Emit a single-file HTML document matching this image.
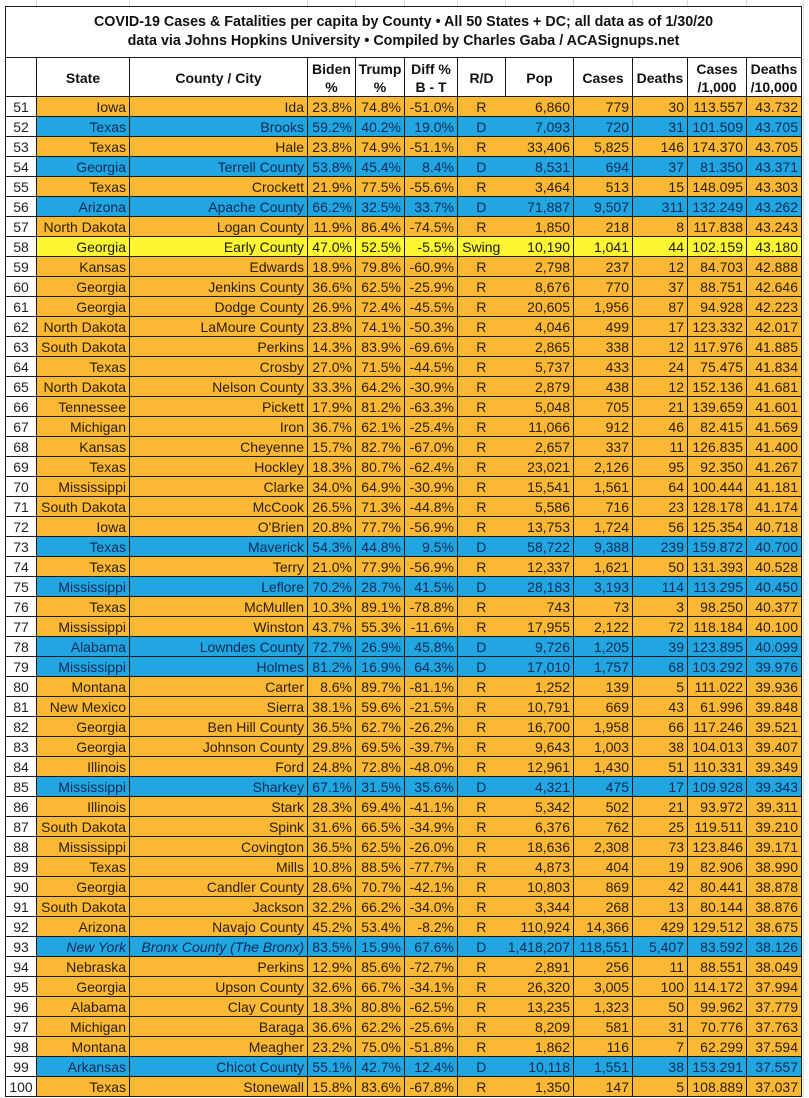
<!DOCTYPE html>
<html><head><meta charset="utf-8">
<style>
html,body{margin:0;padding:0;background:#fff;}
body{width:809px;height:1098px;overflow:hidden;position:relative;font-family:"Liberation Sans",Arial,sans-serif;}
.gl{position:absolute;background:#dcdcdc;}
table{position:absolute;left:5px;top:6px;border-collapse:collapse;table-layout:fixed;width:796px;}
td{border:1px solid #1a1a1a;padding:0 3px 0 2px;font-size:14px;line-height:18px;white-space:nowrap;overflow:hidden;text-align:right;}
tr.d td{height:19px;}
tr.t td{height:49px;text-align:center;font-weight:bold;font-size:14.3px;line-height:19px;color:#111;padding:0 0 1px 0;background:#fff;}
tr.h td{height:37px;text-align:center;font-weight:bold;font-size:14px;line-height:18px;color:#111;background:#fff;padding:1px 0 0 0;}
td.n{text-align:center;background:#fff;color:#222;padding:0;}
td.r{text-align:center;border-right:none;}
td.q{border-left:none;}
tr.o td{background:#fab834;color:#2b1d06;}
tr.b td{background:#22a6e2;color:#0b2a55;}
tr.y td{background:#fdf733;color:#1a1a00;}
tr.o td.n,tr.b td.n,tr.y td.n{background:#fff;color:#222;}
tr.i td.s,tr.i td.c{font-style:italic;}
</style></head><body>
<div class="gl" style="left:36px;top:0;width:1px;height:6px"></div>
<div class="gl" style="left:129px;top:0;width:1px;height:6px"></div>
<div class="gl" style="left:307px;top:0;width:1px;height:6px"></div>
<div class="gl" style="left:355px;top:0;width:1px;height:6px"></div>
<div class="gl" style="left:404px;top:0;width:1px;height:6px"></div>
<div class="gl" style="left:457px;top:0;width:1px;height:6px"></div>
<div class="gl" style="left:505px;top:0;width:1px;height:6px"></div>
<div class="gl" style="left:573px;top:0;width:1px;height:6px"></div>
<div class="gl" style="left:632px;top:0;width:1px;height:6px"></div>
<div class="gl" style="left:687px;top:0;width:1px;height:6px"></div>
<div class="gl" style="left:746px;top:0;width:1px;height:6px"></div>
<div class="gl" style="left:803px;top:0;width:1px;height:1098px"></div>
<table>
<colgroup>
<col style="width:31px"><col style="width:93px"><col style="width:178px"><col style="width:48px"><col style="width:49px"><col style="width:53px"><col style="width:48px"><col style="width:68px"><col style="width:59px"><col style="width:55px"><col style="width:59px"><col style="width:55px">
</colgroup>
<tr class="t"><td colspan="12">COVID-19 Cases &amp; Fatalities per capita by County • All 50 States + DC; all data as of 1/30/20<br>data via Johns Hopkins University • Compiled by Charles Gaba / ACASignups.net</td></tr>
<tr class="h"><td></td><td>State</td><td>County / City</td><td>Biden<br>%</td><td>Trump<br>%</td><td>Diff %<br>B - T</td><td>R/D</td><td>Pop</td><td>Cases</td><td>Deaths</td><td>Cases<br>/1,000</td><td>Deaths<br>/10,000</td></tr>
<tr class="d o"><td class="n">51</td><td class="s">Iowa</td><td class="c">Ida</td><td>23.8%</td><td>74.8%</td><td>-51.0%</td><td class="r">R</td><td class="q">6,860</td><td>779</td><td>30</td><td>113.557</td><td>43.732</td></tr>
<tr class="d b"><td class="n">52</td><td class="s">Texas</td><td class="c">Brooks</td><td>59.2%</td><td>40.2%</td><td>19.0%</td><td class="r">D</td><td class="q">7,093</td><td>720</td><td>31</td><td>101.509</td><td>43.705</td></tr>
<tr class="d o"><td class="n">53</td><td class="s">Texas</td><td class="c">Hale</td><td>23.8%</td><td>74.9%</td><td>-51.1%</td><td class="r">R</td><td class="q">33,406</td><td>5,825</td><td>146</td><td>174.370</td><td>43.705</td></tr>
<tr class="d b"><td class="n">54</td><td class="s">Georgia</td><td class="c">Terrell County</td><td>53.8%</td><td>45.4%</td><td>8.4%</td><td class="r">D</td><td class="q">8,531</td><td>694</td><td>37</td><td>81.350</td><td>43.371</td></tr>
<tr class="d o"><td class="n">55</td><td class="s">Texas</td><td class="c">Crockett</td><td>21.9%</td><td>77.5%</td><td>-55.6%</td><td class="r">R</td><td class="q">3,464</td><td>513</td><td>15</td><td>148.095</td><td>43.303</td></tr>
<tr class="d b"><td class="n">56</td><td class="s">Arizona</td><td class="c">Apache County</td><td>66.2%</td><td>32.5%</td><td>33.7%</td><td class="r">D</td><td class="q">71,887</td><td>9,507</td><td>311</td><td>132.249</td><td>43.262</td></tr>
<tr class="d o"><td class="n">57</td><td class="s">North Dakota</td><td class="c">Logan County</td><td>11.9%</td><td>86.4%</td><td>-74.5%</td><td class="r">R</td><td class="q">1,850</td><td>218</td><td>8</td><td>117.838</td><td>43.243</td></tr>
<tr class="d y"><td class="n">58</td><td class="s">Georgia</td><td class="c">Early County</td><td>47.0%</td><td>52.5%</td><td>-5.5%</td><td class="r">Swing</td><td class="q">10,190</td><td>1,041</td><td>44</td><td>102.159</td><td>43.180</td></tr>
<tr class="d o"><td class="n">59</td><td class="s">Kansas</td><td class="c">Edwards</td><td>18.9%</td><td>79.8%</td><td>-60.9%</td><td class="r">R</td><td class="q">2,798</td><td>237</td><td>12</td><td>84.703</td><td>42.888</td></tr>
<tr class="d o"><td class="n">60</td><td class="s">Georgia</td><td class="c">Jenkins County</td><td>36.6%</td><td>62.5%</td><td>-25.9%</td><td class="r">R</td><td class="q">8,676</td><td>770</td><td>37</td><td>88.751</td><td>42.646</td></tr>
<tr class="d o"><td class="n">61</td><td class="s">Georgia</td><td class="c">Dodge County</td><td>26.9%</td><td>72.4%</td><td>-45.5%</td><td class="r">R</td><td class="q">20,605</td><td>1,956</td><td>87</td><td>94.928</td><td>42.223</td></tr>
<tr class="d o"><td class="n">62</td><td class="s">North Dakota</td><td class="c">LaMoure County</td><td>23.8%</td><td>74.1%</td><td>-50.3%</td><td class="r">R</td><td class="q">4,046</td><td>499</td><td>17</td><td>123.332</td><td>42.017</td></tr>
<tr class="d o"><td class="n">63</td><td class="s">South Dakota</td><td class="c">Perkins</td><td>14.3%</td><td>83.9%</td><td>-69.6%</td><td class="r">R</td><td class="q">2,865</td><td>338</td><td>12</td><td>117.976</td><td>41.885</td></tr>
<tr class="d o"><td class="n">64</td><td class="s">Texas</td><td class="c">Crosby</td><td>27.0%</td><td>71.5%</td><td>-44.5%</td><td class="r">R</td><td class="q">5,737</td><td>433</td><td>24</td><td>75.475</td><td>41.834</td></tr>
<tr class="d o"><td class="n">65</td><td class="s">North Dakota</td><td class="c">Nelson County</td><td>33.3%</td><td>64.2%</td><td>-30.9%</td><td class="r">R</td><td class="q">2,879</td><td>438</td><td>12</td><td>152.136</td><td>41.681</td></tr>
<tr class="d o"><td class="n">66</td><td class="s">Tennessee</td><td class="c">Pickett</td><td>17.9%</td><td>81.2%</td><td>-63.3%</td><td class="r">R</td><td class="q">5,048</td><td>705</td><td>21</td><td>139.659</td><td>41.601</td></tr>
<tr class="d o"><td class="n">67</td><td class="s">Michigan</td><td class="c">Iron</td><td>36.7%</td><td>62.1%</td><td>-25.4%</td><td class="r">R</td><td class="q">11,066</td><td>912</td><td>46</td><td>82.415</td><td>41.569</td></tr>
<tr class="d o"><td class="n">68</td><td class="s">Kansas</td><td class="c">Cheyenne</td><td>15.7%</td><td>82.7%</td><td>-67.0%</td><td class="r">R</td><td class="q">2,657</td><td>337</td><td>11</td><td>126.835</td><td>41.400</td></tr>
<tr class="d o"><td class="n">69</td><td class="s">Texas</td><td class="c">Hockley</td><td>18.3%</td><td>80.7%</td><td>-62.4%</td><td class="r">R</td><td class="q">23,021</td><td>2,126</td><td>95</td><td>92.350</td><td>41.267</td></tr>
<tr class="d o"><td class="n">70</td><td class="s">Mississippi</td><td class="c">Clarke</td><td>34.0%</td><td>64.9%</td><td>-30.9%</td><td class="r">R</td><td class="q">15,541</td><td>1,561</td><td>64</td><td>100.444</td><td>41.181</td></tr>
<tr class="d o"><td class="n">71</td><td class="s">South Dakota</td><td class="c">McCook</td><td>26.5%</td><td>71.3%</td><td>-44.8%</td><td class="r">R</td><td class="q">5,586</td><td>716</td><td>23</td><td>128.178</td><td>41.174</td></tr>
<tr class="d o"><td class="n">72</td><td class="s">Iowa</td><td class="c">O'Brien</td><td>20.8%</td><td>77.7%</td><td>-56.9%</td><td class="r">R</td><td class="q">13,753</td><td>1,724</td><td>56</td><td>125.354</td><td>40.718</td></tr>
<tr class="d b"><td class="n">73</td><td class="s">Texas</td><td class="c">Maverick</td><td>54.3%</td><td>44.8%</td><td>9.5%</td><td class="r">D</td><td class="q">58,722</td><td>9,388</td><td>239</td><td>159.872</td><td>40.700</td></tr>
<tr class="d o"><td class="n">74</td><td class="s">Texas</td><td class="c">Terry</td><td>21.0%</td><td>77.9%</td><td>-56.9%</td><td class="r">R</td><td class="q">12,337</td><td>1,621</td><td>50</td><td>131.393</td><td>40.528</td></tr>
<tr class="d b"><td class="n">75</td><td class="s">Mississippi</td><td class="c">Leflore</td><td>70.2%</td><td>28.7%</td><td>41.5%</td><td class="r">D</td><td class="q">28,183</td><td>3,193</td><td>114</td><td>113.295</td><td>40.450</td></tr>
<tr class="d o"><td class="n">76</td><td class="s">Texas</td><td class="c">McMullen</td><td>10.3%</td><td>89.1%</td><td>-78.8%</td><td class="r">R</td><td class="q">743</td><td>73</td><td>3</td><td>98.250</td><td>40.377</td></tr>
<tr class="d o"><td class="n">77</td><td class="s">Mississippi</td><td class="c">Winston</td><td>43.7%</td><td>55.3%</td><td>-11.6%</td><td class="r">R</td><td class="q">17,955</td><td>2,122</td><td>72</td><td>118.184</td><td>40.100</td></tr>
<tr class="d b"><td class="n">78</td><td class="s">Alabama</td><td class="c">Lowndes County</td><td>72.7%</td><td>26.9%</td><td>45.8%</td><td class="r">D</td><td class="q">9,726</td><td>1,205</td><td>39</td><td>123.895</td><td>40.099</td></tr>
<tr class="d b"><td class="n">79</td><td class="s">Mississippi</td><td class="c">Holmes</td><td>81.2%</td><td>16.9%</td><td>64.3%</td><td class="r">D</td><td class="q">17,010</td><td>1,757</td><td>68</td><td>103.292</td><td>39.976</td></tr>
<tr class="d o"><td class="n">80</td><td class="s">Montana</td><td class="c">Carter</td><td>8.6%</td><td>89.7%</td><td>-81.1%</td><td class="r">R</td><td class="q">1,252</td><td>139</td><td>5</td><td>111.022</td><td>39.936</td></tr>
<tr class="d o"><td class="n">81</td><td class="s">New Mexico</td><td class="c">Sierra</td><td>38.1%</td><td>59.6%</td><td>-21.5%</td><td class="r">R</td><td class="q">10,791</td><td>669</td><td>43</td><td>61.996</td><td>39.848</td></tr>
<tr class="d o"><td class="n">82</td><td class="s">Georgia</td><td class="c">Ben Hill County</td><td>36.5%</td><td>62.7%</td><td>-26.2%</td><td class="r">R</td><td class="q">16,700</td><td>1,958</td><td>66</td><td>117.246</td><td>39.521</td></tr>
<tr class="d o"><td class="n">83</td><td class="s">Georgia</td><td class="c">Johnson County</td><td>29.8%</td><td>69.5%</td><td>-39.7%</td><td class="r">R</td><td class="q">9,643</td><td>1,003</td><td>38</td><td>104.013</td><td>39.407</td></tr>
<tr class="d o"><td class="n">84</td><td class="s">Illinois</td><td class="c">Ford</td><td>24.8%</td><td>72.8%</td><td>-48.0%</td><td class="r">R</td><td class="q">12,961</td><td>1,430</td><td>51</td><td>110.331</td><td>39.349</td></tr>
<tr class="d b"><td class="n">85</td><td class="s">Mississippi</td><td class="c">Sharkey</td><td>67.1%</td><td>31.5%</td><td>35.6%</td><td class="r">D</td><td class="q">4,321</td><td>475</td><td>17</td><td>109.928</td><td>39.343</td></tr>
<tr class="d o"><td class="n">86</td><td class="s">Illinois</td><td class="c">Stark</td><td>28.3%</td><td>69.4%</td><td>-41.1%</td><td class="r">R</td><td class="q">5,342</td><td>502</td><td>21</td><td>93.972</td><td>39.311</td></tr>
<tr class="d o"><td class="n">87</td><td class="s">South Dakota</td><td class="c">Spink</td><td>31.6%</td><td>66.5%</td><td>-34.9%</td><td class="r">R</td><td class="q">6,376</td><td>762</td><td>25</td><td>119.511</td><td>39.210</td></tr>
<tr class="d o"><td class="n">88</td><td class="s">Mississippi</td><td class="c">Covington</td><td>36.5%</td><td>62.5%</td><td>-26.0%</td><td class="r">R</td><td class="q">18,636</td><td>2,308</td><td>73</td><td>123.846</td><td>39.171</td></tr>
<tr class="d o"><td class="n">89</td><td class="s">Texas</td><td class="c">Mills</td><td>10.8%</td><td>88.5%</td><td>-77.7%</td><td class="r">R</td><td class="q">4,873</td><td>404</td><td>19</td><td>82.906</td><td>38.990</td></tr>
<tr class="d o"><td class="n">90</td><td class="s">Georgia</td><td class="c">Candler County</td><td>28.6%</td><td>70.7%</td><td>-42.1%</td><td class="r">R</td><td class="q">10,803</td><td>869</td><td>42</td><td>80.441</td><td>38.878</td></tr>
<tr class="d o"><td class="n">91</td><td class="s">South Dakota</td><td class="c">Jackson</td><td>32.2%</td><td>66.2%</td><td>-34.0%</td><td class="r">R</td><td class="q">3,344</td><td>268</td><td>13</td><td>80.144</td><td>38.876</td></tr>
<tr class="d o"><td class="n">92</td><td class="s">Arizona</td><td class="c">Navajo County</td><td>45.2%</td><td>53.4%</td><td>-8.2%</td><td class="r">R</td><td class="q">110,924</td><td>14,366</td><td>429</td><td>129.512</td><td>38.675</td></tr>
<tr class="d b i"><td class="n">93</td><td class="s">New York</td><td class="c">Bronx County (The Bronx)</td><td>83.5%</td><td>15.9%</td><td>67.6%</td><td class="r">D</td><td class="q">1,418,207</td><td>118,551</td><td>5,407</td><td>83.592</td><td>38.126</td></tr>
<tr class="d o"><td class="n">94</td><td class="s">Nebraska</td><td class="c">Perkins</td><td>12.9%</td><td>85.6%</td><td>-72.7%</td><td class="r">R</td><td class="q">2,891</td><td>256</td><td>11</td><td>88.551</td><td>38.049</td></tr>
<tr class="d o"><td class="n">95</td><td class="s">Georgia</td><td class="c">Upson County</td><td>32.6%</td><td>66.7%</td><td>-34.1%</td><td class="r">R</td><td class="q">26,320</td><td>3,005</td><td>100</td><td>114.172</td><td>37.994</td></tr>
<tr class="d o"><td class="n">96</td><td class="s">Alabama</td><td class="c">Clay County</td><td>18.3%</td><td>80.8%</td><td>-62.5%</td><td class="r">R</td><td class="q">13,235</td><td>1,323</td><td>50</td><td>99.962</td><td>37.779</td></tr>
<tr class="d o"><td class="n">97</td><td class="s">Michigan</td><td class="c">Baraga</td><td>36.6%</td><td>62.2%</td><td>-25.6%</td><td class="r">R</td><td class="q">8,209</td><td>581</td><td>31</td><td>70.776</td><td>37.763</td></tr>
<tr class="d o"><td class="n">98</td><td class="s">Montana</td><td class="c">Meagher</td><td>23.2%</td><td>75.0%</td><td>-51.8%</td><td class="r">R</td><td class="q">1,862</td><td>116</td><td>7</td><td>62.299</td><td>37.594</td></tr>
<tr class="d b"><td class="n">99</td><td class="s">Arkansas</td><td class="c">Chicot County</td><td>55.1%</td><td>42.7%</td><td>12.4%</td><td class="r">D</td><td class="q">10,118</td><td>1,551</td><td>38</td><td>153.291</td><td>37.557</td></tr>
<tr class="d o"><td class="n">100</td><td class="s">Texas</td><td class="c">Stonewall</td><td>15.8%</td><td>83.6%</td><td>-67.8%</td><td class="r">R</td><td class="q">1,350</td><td>147</td><td>5</td><td>108.889</td><td>37.037</td></tr>
</table>
</body></html>
